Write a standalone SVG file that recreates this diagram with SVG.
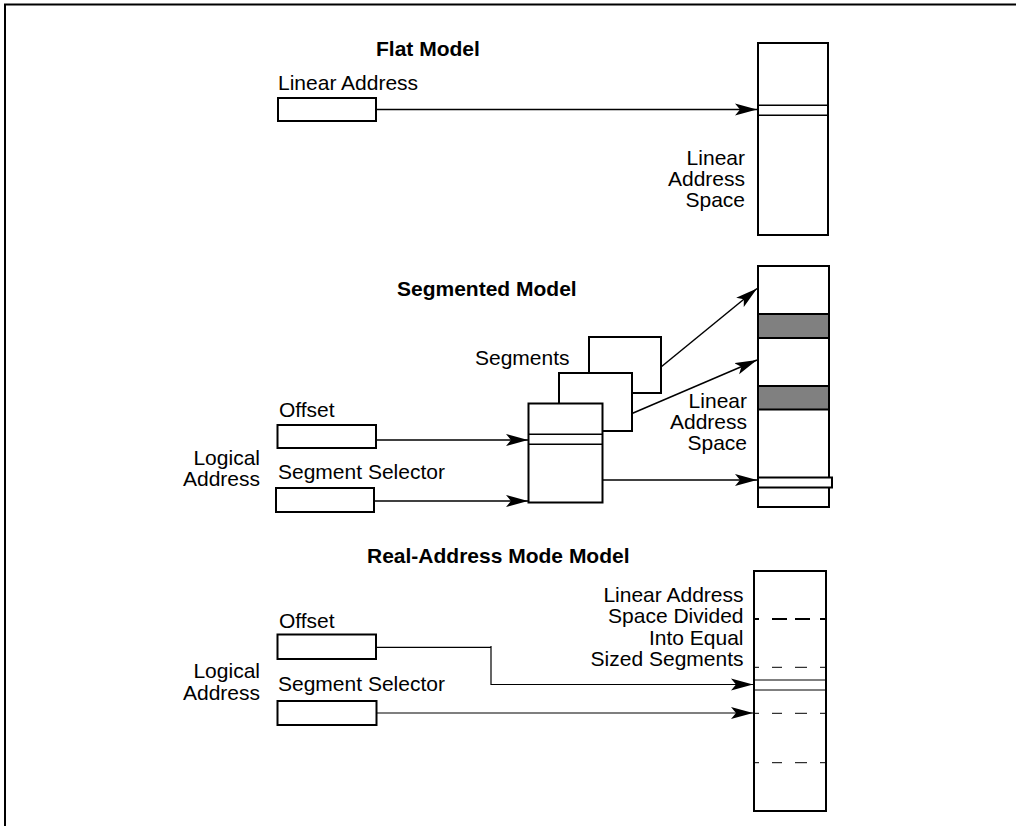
<svg xmlns="http://www.w3.org/2000/svg" width="1016" height="826" viewBox="0 0 1016 826">
<style>
.t{font-family:"Liberation Sans",Arial,sans-serif;font-size:21px;fill:#000}
.b{font-family:"Liberation Sans",Arial,sans-serif;font-size:21px;font-weight:bold;fill:#000}
.r{text-anchor:end}
.box{fill:#fff;stroke:#000;stroke-width:2}
.gray{fill:#808080;stroke:#000;stroke-width:2}
.ln{stroke:#000;stroke-width:1.5;fill:none}
.thin{stroke:#000;stroke-width:1;fill:none}
.c{stroke:#000;stroke-width:1.5;fill:none;marker-end:url(#ah)}
.c1{stroke:#000;stroke-width:1.2;fill:none;marker-end:url(#ah)}
</style>
<defs>
<marker id="ah" markerWidth="24" markerHeight="13" refX="22" refY="6.5" orient="auto" markerUnits="userSpaceOnUse"><path d="M0,0.5 L22,6.5 L0,12.5 L5,6.5 Z" fill="#000"/></marker>
</defs>
<rect width="1016" height="826" fill="#fff"/>
<path d="M5,826 V4.5 H1016" fill="none" stroke="#000" stroke-width="2"/>

<!-- Flat model -->
<text class="b" x="376" y="56">Flat Model</text>
<g id="flat-linear-address">
<text class="t" x="278" y="90">Linear Address</text>
<rect class="box" x="278" y="98" width="98" height="23"/>
</g>
<g id="flat-space">
<rect class="box" x="758" y="43" width="70" height="192"/>
<line class="ln" x1="758" y1="105.3" x2="828" y2="105.3"/>
<line class="ln" x1="758" y1="115.3" x2="828" y2="115.3"/>
<text class="t r" x="745" y="165">Linear</text>
<text class="t r" x="745" y="186">Address</text>
<text class="t r" x="745" y="207">Space</text>
</g>

<!-- Segmented model -->
<text class="b" x="397" y="296">Segmented Model</text>
<g id="seg-offset">
<text class="t" x="279" y="417">Offset</text>
<rect class="box" x="277.5" y="425" width="98.5" height="23"/>
</g>
<g id="seg-logical">
<text class="t r" x="260" y="465">Logical</text>
<text class="t r" x="260" y="486">Address</text>
</g>
<g id="seg-selector">
<text class="t" x="278" y="479">Segment Selector</text>
<rect class="box" x="276" y="488" width="98" height="24"/>
</g>
<g id="segments">
<text class="t" x="475" y="365">Segments</text>
<rect class="box" x="589" y="337" width="72" height="56"/>
<rect class="box" x="559" y="373" width="73" height="58"/>
<rect class="box" x="528.5" y="403.5" width="74" height="99"/>
<line class="ln" x1="528.5" y1="434.3" x2="602.5" y2="434.3"/>
<line class="ln" x1="528.5" y1="444.3" x2="602.5" y2="444.3"/>
</g>
<g id="seg-space">
<rect class="box" x="758" y="266" width="71" height="241"/>
<rect class="gray" x="758" y="314" width="71" height="24"/>
<rect class="gray" x="758" y="386" width="71" height="23.5"/>
<rect class="box" x="758" y="477.5" width="74" height="10"/>
<text class="t r" x="747" y="408">Linear</text>
<text class="t r" x="747" y="429">Address</text>
<text class="t r" x="747" y="450">Space</text>
</g>

<!-- Real-address mode model -->
<text class="b" x="367" y="563">Real-Address Mode Model</text>
<g id="real-offset">
<text class="t" x="279" y="628">Offset</text>
<rect class="box" x="277.5" y="634.5" width="98.5" height="24.5"/>
</g>
<g id="real-logical">
<text class="t r" x="260" y="678">Logical</text>
<text class="t r" x="260" y="699.5">Address</text>
</g>
<g id="real-selector">
<text class="t" x="278" y="691">Segment Selector</text>
<rect class="box" x="277.5" y="701" width="99" height="24"/>
</g>
<g id="real-space">
<rect class="box" x="754" y="571" width="72" height="240"/>
<path d="M754,619 H759 M772,619 H787 M795,619 H810 M820,619 H826" stroke="#000" stroke-width="2"/>
<path d="M754,667.3 H759 M772,667.3 H782 M795,667.3 H807 M820,667.3 H826 M754,713.3 H759 M772,713.3 H782 M795,713.3 H807 M820,713.3 H826 M754,762.7 H759 M772,762.7 H782 M795,762.7 H807 M820,762.7 H826" stroke="#000" stroke-width="1"/>
<line class="thin" x1="754" y1="680" x2="826" y2="680"/>
<line class="thin" x1="754" y1="690" x2="826" y2="690"/>
<text class="t r" x="743.5" y="601.5">Linear Address</text>
<text class="t r" x="743.5" y="623">Space Divided</text>
<text class="t r" x="743.5" y="644.5">Into Equal</text>
<text class="t r" x="743.5" y="666">Sized Segments</text>
</g>

<g id="connectors">
<line class="c" x1="376" y1="109.5" x2="757" y2="109.5"/>
<line class="c" x1="376" y1="440" x2="528" y2="440"/>
<line class="c" x1="374" y1="501" x2="528" y2="501"/>
<line class="c" x1="661" y1="367" x2="757" y2="288.5"/>
<line class="c" x1="632" y1="413.5" x2="757" y2="360"/>
<line class="c" x1="602.5" y1="480" x2="757" y2="480"/>
<path class="c1" d="M376,647.3 H491 M491,646 V684.5 H753"/>
<line class="c1" x1="376.5" y1="713" x2="753" y2="713"/>
</g>
</svg>
